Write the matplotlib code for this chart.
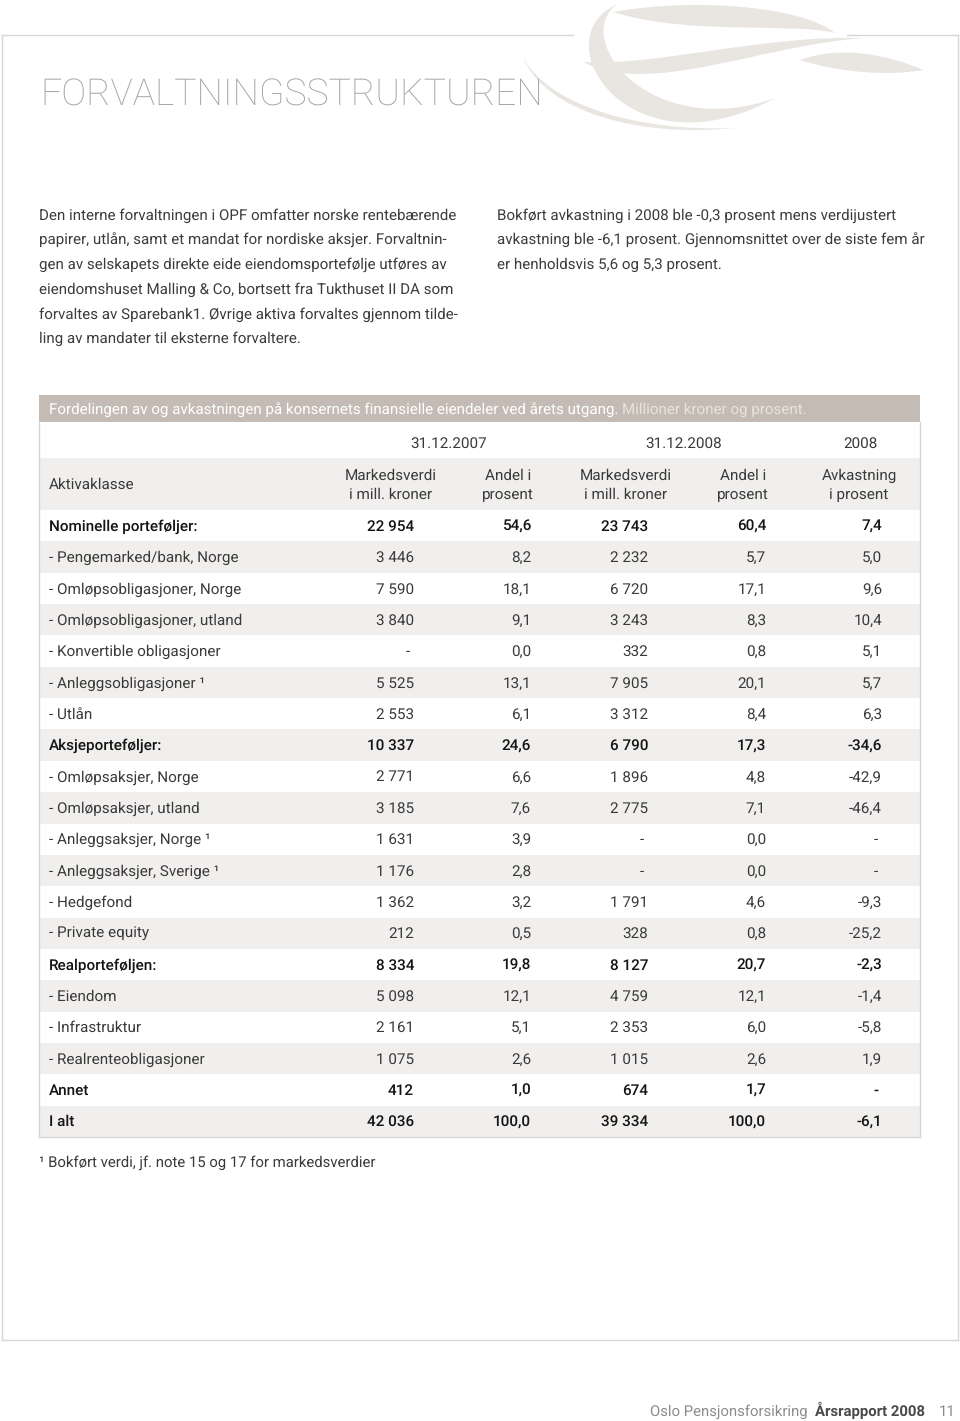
import matplotlib
matplotlib.use('Agg')
import matplotlib.pyplot as plt
from matplotlib.path import Path
from matplotlib.patches import PathPatch, Rectangle

plt.rcParams['text.hinting'] = 'no_hinting'

# Table data
labels = ["Nominelle porteføljer:", "- Pengemarked/bank, Norge", "- Omløpsobligasjoner, Norge",
          "- Omløpsobligasjoner, utland", "- Konvertible obligasjoner", "- Anleggsobligasjoner ¹",
          "- Utlån", "Aksjeporteføljer:", "- Omløpsaksjer, Norge", "- Omløpsaksjer, utland",
          "- Anleggsaksjer, Norge ¹", "- Anleggsaksjer, Sverige ¹", "- Hedgefond", "- Private equity",
          "Realporteføljen:", "- Eiendom", "- Infrastruktur", "- Realrenteobligasjoner", "Annet", "I alt"]
bold_rows = [0, 7, 14, 18, 19]
mv_2007 = [22954, 3446, 7590, 3840, None, 5525, 2553, 10337, 2771, 3185, 1631, 1176, 1362, 212,
           8334, 5098, 2161, 1075, 412, 42036]
andel_2007 = [54.6, 8.2, 18.1, 9.1, 0.0, 13.1, 6.1, 24.6, 6.6, 7.6, 3.9, 2.8, 3.2, 0.5,
              19.8, 12.1, 5.1, 2.6, 1.0, 100.0]
mv_2008 = [23743, 2232, 6720, 3243, 332, 7905, 3312, 6790, 1896, 2775, None, None, 1791, 328,
           8127, 4759, 2353, 1015, 674, 39334]
andel_2008 = [60.4, 5.7, 17.1, 8.3, 0.8, 20.1, 8.4, 17.3, 4.8, 7.1, 0.0, 0.0, 4.6, 0.8,
              20.7, 12.1, 6.0, 2.6, 1.7, 100.0]
avk_2008 = [7.4, 5.0, 9.6, 10.4, 5.1, 5.7, 6.3, -34.6, -42.9, -46.4, None, None, -9.3, -25.2,
            -2.3, -1.4, -5.8, 1.9, None, -6.1]
col_heads = ["Markedsverdi\ni mill. kroner", "Andel i\nprosent", "Markedsverdi\ni mill. kroner",
             "Andel i\nprosent", "Avkastning\ni prosent"]
dates = ["31.12.2007", "31.12.2008", "2008"]

left_text = ["Den interne forvaltningen i OPF omfatter norske rentebærende",
             "papirer, utlån, samt et mandat for nordiske aksjer. Forvaltnin-",
             "gen av selskapets direkte eide eiendomsportefølje utføres av",
             "eiendomshuset Malling & Co, bortsett fra Tukthuset II DA som",
             "forvaltes av Sparebank1. Øvrige aktiva forvaltes gjennom tilde-",
             "ling av mandater til eksterne forvaltere."]
right_text = ["Bokført avkastning i 2008 ble -0,3 prosent mens verdijustert",
              "avkastning ble -6,1 prosent. Gjennomsnittet over de siste fem år",
              "er henholdsvis 5,6 og 5,3 prosent."]

FONT = 'Roboto'


def fmt_int(v):
    if v is None:
        return "-"
    return f"{v:,}".replace(",", " ")


def fmt_dec(v):
    if v is None:
        return "-"
    return f"{v:.1f}".replace(".", ",")


fig = plt.figure(figsize=(9.6, 14.21), dpi=100)
ax = fig.add_axes([0, 0, 1, 1])
ax.set_xlim(0, 960)
ax.set_ylim(1421, 0)
ax.axis('off')
renderer = fig.canvas.get_renderer()


def fit(text, target, weight='normal', base=10):
    # font size that makes the text about `target` pixels wide
    t = ax.text(0, 0, text, fontsize=base, family=FONT, fontweight=weight)
    w = t.get_window_extent(renderer).width
    t.remove()
    return base * target / w


# page frame
frame_c = '#d6d6d6'
ax.plot([2, 573], [35, 35], color=frame_c, lw=1)
ax.plot([847, 958], [35, 35], color=frame_c, lw=1)
ax.plot([2, 2], [35, 1340], color=frame_c, lw=1)
ax.plot([958, 958], [35, 1340], color=frame_c, lw=1)
ax.plot([2, 958], [1340, 1340], color=frame_c, lw=1)

# decorative swirl
logo_c = '#e9e6e2'


def crescent(p0, c1, c2, p1, d1, d2):
    verts = [p0, c1, c2, p1, d1, d2, p0, p0]
    codes = [Path.MOVETO, Path.CURVE4, Path.CURVE4, Path.CURVE4,
             Path.CURVE4, Path.CURVE4, Path.CURVE4, Path.CLOSEPOLY]
    ax.add_patch(PathPatch(Path(verts, codes), facecolor=logo_c, edgecolor='none', zorder=1))


crescent((617, 4), (540, 40), (630, 178), (775, 98), (652, 142), (570, 40))
crescent((523, 57), (545, 112), (640, 138), (735, 128), (640, 132), (548, 106))
crescent((613, 12), (690, -2), (800, 5), (835, 33), (790, 22), (690, 36))
crescent((583, 62), (650, 97), (760, 45), (865, 38), (760, 35), (660, 66))
crescent((800, 60), (840, 45), (890, 55), (923, 70), (890, 76), (840, 73))

# title
ts = fit("FORVALTNINGSSTRUKTUREN", 503, weight='light')
ax.text(40, 106, "FORVALTNINGSSTRUKTUREN", fontsize=ts, color='#aaa49e', family=FONT,
        va='baseline', ha='left', fontweight='light')

# paragraphs
txt_c = '#3c3c3c'
bs = fit(left_text[0], 417)
for i, line in enumerate(left_text):
    ax.text(39, 220 + i * 24.6, line, fontsize=bs, color=txt_c, family=FONT, va='baseline', ha='left')
for i, line in enumerate(right_text):
    ax.text(497, 220 + i * 24.6, line, fontsize=bs, color=txt_c, family=FONT, va='baseline', ha='left')

# table
tx0, tx1 = 39, 920
ax.add_patch(Rectangle((tx0, 395), tx1 - tx0, 27, facecolor='#c4bcb4', edgecolor='none'))
cap = "Fordelingen av og avkastningen på konsernets finansielle eiendeler ved årets utgang."
hs = fit(cap, 571)
t = ax.text(49, 414, cap, fontsize=hs, color='white', family=FONT, va='baseline', ha='left')
bb = t.get_window_extent(renderer).transformed(ax.transData.inverted())
ax.text(bb.x1 + 4, 414, "Millioner kroner og prosent.", fontsize=hs, color='#e8e3de',
        family=FONT, va='baseline', ha='left')

grey = '#f1efed'
ax.add_patch(Rectangle((tx0, 458), tx1 - tx0, 52, facecolor=grey, edgecolor='none'))
row_h = 31.35
y0 = 510
for i in range(len(labels)):
    if i % 2 == 1:
        ax.add_patch(Rectangle((tx0, y0 + i * row_h), tx1 - tx0, row_h, facecolor=grey, edgecolor='none'))
y_end = y0 + len(labels) * row_h
ax.plot([tx0, tx0], [422, y_end], color='#d6d6d6', lw=1)
ax.plot([tx1, tx1], [422, y_end], color='#d6d6d6', lw=1)
ax.plot([tx0, tx1], [y_end, y_end], color='#d6d6d6', lw=1)

tab_c = '#3a3a3a'
fs = fit("- Omløpsobligasjoner, utland", 194)
date_x = [449, 684, 860]
for x, d in zip(date_x, dates):
    ax.text(x, 448, d, fontsize=fs, color=tab_c, family=FONT, va='baseline', ha='center')
ax.text(49, 489, "Aktivaklasse", fontsize=fs, color=tab_c, family=FONT, va='baseline', ha='left')
head_x = [391, 508, 626, 743, 859]
for x, h in zip(head_x, col_heads):
    top, bot = h.split("\n")
    ax.text(x, 480, top, fontsize=fs, color=tab_c, family=FONT, va='baseline', ha='center')
    ax.text(x, 499, bot, fontsize=fs, color=tab_c, family=FONT, va='baseline', ha='center')

col_right = [414, 531, 648, 766, 882]
for i, lab in enumerate(labels):
    yb = y0 + (i + 0.5) * row_h + 5
    c = '#141414' if i in bold_rows else tab_c
    w = 'medium' if i in bold_rows else 'normal'
    ax.text(49, yb, lab, fontsize=fs, color=c, family=FONT, va='baseline', ha='left', fontweight=w)
    vals = [fmt_int(mv_2007[i]), fmt_dec(andel_2007[i]), fmt_int(mv_2008[i]),
            fmt_dec(andel_2008[i]), fmt_dec(avk_2008[i])]
    for x, v in zip(col_right, vals):
        xx = x - 4 if v == "-" else x
        ax.text(xx, yb, v, fontsize=fs, color=c, family=FONT, va='baseline', ha='right', fontweight=w)

note = "¹ Bokført verdi, jf. note 15 og 17 for markedsverdier"
ax.text(39, 1167, note, fontsize=fit(note, 336), color=tab_c, family=FONT, va='baseline', ha='left')

# footer
ff = fit("Oslo Pensjonsforsikring", 157)
ax.text(925, 1416, "Årsrapport 2008", fontsize=ff, color='#4a4a4a', family=FONT,
        fontweight='bold', va='baseline', ha='right')
ax.text(808, 1416, "Oslo Pensjonsforsikring", fontsize=ff, color='#8c8c8c', family=FONT,
        va='baseline', ha='right')
ax.text(955, 1416, "11", fontsize=ff, color='#8c8c8c', family=FONT, va='baseline', ha='right')

fig.savefig('out.png', dpi=100, facecolor='white')
